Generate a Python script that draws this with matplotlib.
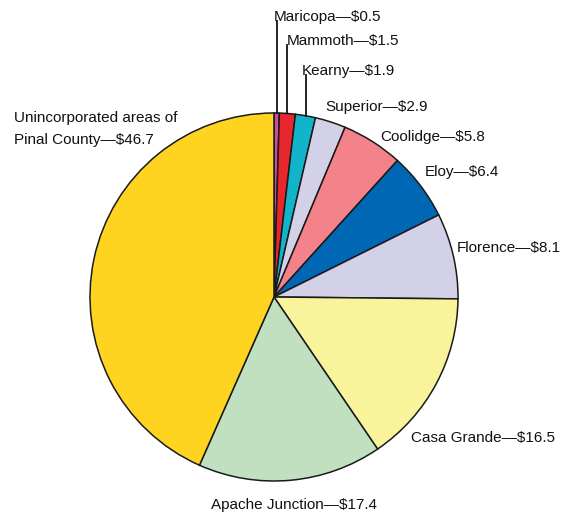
import matplotlib.pyplot as plt
import numpy as np

# Pinal County revenue shares (millions of dollars)
places = ["Maricopa", "Mammoth", "Kearny", "Superior", "Coolidge", "Eloy",
          "Florence", "Casa Grande", "Apache Junction",
          "Unincorporated areas of\nPinal County"]
values = [0.5, 1.5, 1.9, 2.9, 5.8, 6.4, 8.1, 16.5, 17.4, 46.7]
colors = ["#c74fa0", "#e8262e", "#12b4c9", "#d2d1e8", "#f4828a", "#0067b4",
          "#d2d1e8", "#f9f39c", "#c0e0c0", "#ffd420"]

# label anchor (left x, centre y) in pixel coords, top-left origin
label_pos = [(274, 17), (287, 41), (302, 71), (325, 107), (380, 137),
             (425, 172), (457, 248), (411, 438), (211, 505), (14, 129)]
leader = [True, True, True, False, False, False, False, False, False, False]

W, H = 561, 514
cx, cy, r = 274, 297, 184

plt.rcParams['font.family'] = ['Liberation Sans Narrow', 'Liberation Sans', 'DejaVu Sans']

fig = plt.figure(figsize=(W / 100, H / 100), dpi=100)
ax = fig.add_axes([0, 0, 1, 1])

wedges, _ = ax.pie(values, colors=colors, startangle=90, counterclock=False,
                   center=(cx, H - cy), radius=r,
                   wedgeprops=dict(edgecolor='#1a1a1a', linewidth=1.1))

for w, name, v, (lx, ly), ld in zip(wedges, places, values, label_pos, leader):
    txt = f"{name}—${v}"
    ax.text(lx, H - ly, txt, ha='left', va='center', fontsize=11,
            color='#111111', linespacing=1.65)
    if ld:
        ang = np.deg2rad((w.theta1 + w.theta2) / 2)
        x0 = cx + r * np.cos(ang)
        y0 = (H - cy) + r * np.sin(ang)
        ax.plot([x0, x0], [y0, H - ly - 4], color='#111111', lw=1.3)

ax.set_xlim(0, W)
ax.set_ylim(0, H)
ax.set_aspect('equal')
ax.axis('off')

fig.savefig("out.png", dpi=100)
